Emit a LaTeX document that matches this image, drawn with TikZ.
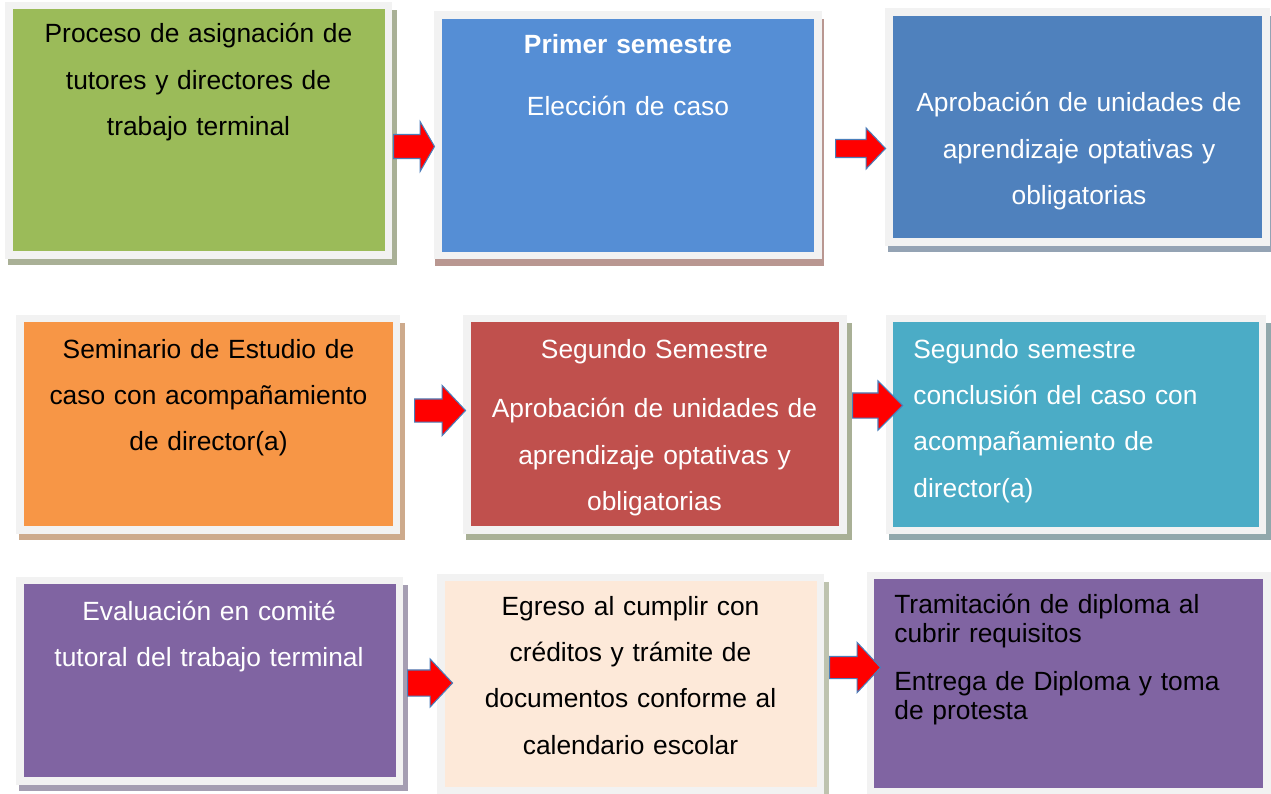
\documentclass[tikz,border=0pt]{standalone}
\usepackage{fontspec}
\setmainfont{Liberation Sans}
\usepackage{tikz}
\usetikzlibrary{positioning,fit,shadows,shapes.arrows}

\definecolor{marco}{HTML}{F2F2F2}
\definecolor{verde}{HTML}{9BBB59}
\definecolor{azulclaro}{HTML}{558ED5}
\definecolor{azul}{HTML}{4F81BD}
\definecolor{naranja}{HTML}{F79646}
\definecolor{rojo}{HTML}{C0504D}
\definecolor{turquesa}{HTML}{4BACC6}
\definecolor{morado}{HTML}{8064A2}
\definecolor{durazno}{HTML}{FDE9D9}
\definecolor{sombraverde}{HTML}{A9B096}
\definecolor{sombrarosa}{HTML}{B99791}
\definecolor{sombraazul}{HTML}{94A3B4}
\definecolor{sombranaranja}{HTML}{CDAA8C}
\definecolor{sombraturquesa}{HTML}{91A8AC}
\definecolor{sombramorado}{HTML}{A59EB2}
\definecolor{sombraclara}{HTML}{BEC3AF}
\definecolor{bordeflecha}{HTML}{4A7EBB}

\tikzset{
    caja/.style={draw=marco, line width=0.15cm, inner sep=0pt,
        general shadow={fill=#1, shadow scale=1.025, shadow xshift=0.075cm, shadow yshift=-0.14cm}},
    cajabaja/.style={draw=marco, line width=0.15cm, inner sep=0pt,
        general shadow={fill=#1, shadow scale=1.025, shadow xshift=0.03cm, shadow yshift=-0.14cm}},
    texto/.style={text width=7.2cm, align=center, inner sep=0pt,
        font=\fontsize{15pt}{26.4pt}\selectfont},
    textoizq/.style={texto, text width=7cm, align=left},
    flecha/.style={single arrow, draw=bordeflecha, fill=red, line width=0.6pt,
        inner sep=0pt, anchor=tail}
}

\begin{document}
\begin{tikzpicture}[x=0.02cm, y=-0.02cm]
    \useasboundingbox (0,0) rectangle (1271,794);

    \node[caja=sombraverde, fill=verde, fit={(9,5.5) (388.5,255)}] (asignacion) {};
    \node[cajabaja=sombrarosa, fill=azulclaro, fit={(438,15) (818,255.5)}] (primer) {};
    \node[caja=sombraazul, fill=azul, fit={(889,12) (1266,242)}] (aprobacion) {};
    \node[caja=sombranaranja, fill=naranja, fit={(20,318.5) (396.5,530)}] (seminario) {};
    \node[caja=sombraverde, fill=rojo, fit={(467,318.5) (843,530)}] (segundo) {};
    \node[caja=sombraturquesa, fill=turquesa, fit={(889.5,318.5) (1262.5,530.5)}] (conclusion) {};
    \node[caja=sombramorado, fill=morado, fit={(20,580.5) (399.5,781)}] (evaluacion) {};
    \node[caja=sombraclara, fill=durazno, fit={(441,577.5) (820.5,791)}] (egreso) {};
    \node[caja=sombraclara, fill=morado, fit={(870.5,575.5) (1267,791.5)}] (diploma) {};

    \node[flecha, minimum height=0.82cm, inner ysep=0.23cm, single arrow head extend=0.26cm, single arrow tip angle=120] (f1) at (393,146.5) {};
    \node[flecha, minimum height=1.0cm, inner ysep=0.17cm, single arrow head extend=0.23cm, single arrow tip angle=93] (f2) at (835,148.5) {};
    \node[flecha, minimum height=1.02cm, inner ysep=0.22cm, single arrow head extend=0.27cm, single arrow tip angle=94] (f3) at (414,410.5) {};
    \node[flecha, minimum height=1.0cm, inner ysep=0.24cm, single arrow head extend=0.24cm, single arrow tip angle=90] (f4) at (852,405.5) {};
    \node[flecha, minimum height=0.9cm, inner ysep=0.25cm, single arrow head extend=0.22cm, single arrow tip angle=94] (f5) at (407,683) {};
    \node[flecha, minimum height=1.02cm, inner ysep=0.21cm, single arrow head extend=0.28cm, single arrow tip angle=94] (f6) at (829,667.5) {};

    \node[texto, anchor=base] (t1) at (198.5,43) {Proceso de asignación de\\tutores y directores de\\trabajo terminal};
    \node[texto, anchor=base, text=white] (t2) at (628,54) {\textbf{Primer semestre}\\[8.8pt]Elección de caso};
    \node[texto, anchor=base, text=white] (t3) at (1079,112) {Aprobación de unidades de\\aprendizaje optativas y\\obligatorias};
    \node[texto, anchor=base] (t4) at (208.5,358) {Seminario de Estudio de\\caso con acompañamiento\\de director(a)};
    \node[texto, anchor=base, text=white] (t5) at (654.5,358) {Segundo Semestre\\[7.6pt]Aprobación de unidades de\\aprendizaje optativas y\\obligatorias};
    \node[textoizq, anchor=base west, text=white] (t6) at (913,358) {Segundo semestre\\conclusión del caso con\\acompañamiento de\\director(a)};
    \node[texto, anchor=base, text=white] (t7) at (209,620) {Evaluación en comité\\tutoral del trabajo terminal};
    \node[texto, anchor=base] (t8) at (630.5,615) {Egreso al cumplir con\\créditos y trámite de\\documentos conforme al\\calendario escolar};
    \node[textoizq, anchor=base west, font=\fontsize{15pt}{16.8pt}\selectfont] (t9) at (894,613) {Tramitación de diploma al\\cubrir requisitos\\[10.4pt]Entrega de Diploma y toma\\de protesta};
\end{tikzpicture}
\end{document}
